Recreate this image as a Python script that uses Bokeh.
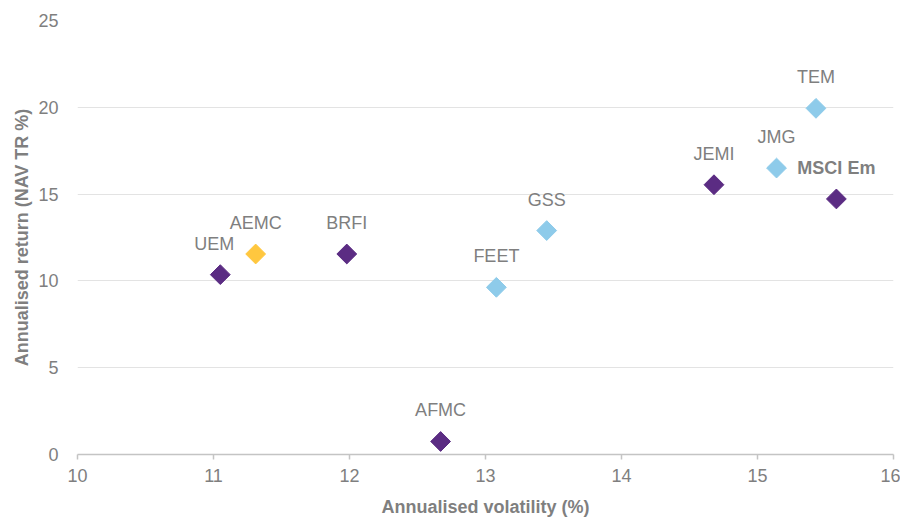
import math
from bokeh.plotting import figure
from bokeh.models import ColumnDataSource, Range1d, FixedTicker
from bokeh.embed import file_html
from bokeh.resources import INLINE
from bokeh.core.properties import value

# Data
names = ["UEM", "AEMC", "BRFI", "AFMC", "FEET", "GSS", "JEMI", "JMG", "TEM", "MSCI Em"]
volatility = [11.05, 11.31, 11.98, 12.67, 13.08, 13.45, 14.68, 15.14, 15.43, 15.58]
nav_return = [10.36, 11.55, 11.55, 0.75, 9.63, 12.90, 15.54, 16.50, 19.94, 14.72]
group = ["peer", "fund", "peer", "peer", "ext", "ext", "peer", "ext", "ext", "peer"]
x_ticks = [10, 11, 12, 13, 14, 15, 16]
y_ticks = [0, 5, 10, 15, 20, 25]

palette = {"peer": "#5b2c83", "fund": "#ffc73f", "ext": "#8ecbea"}
TEXT = "#7f7f7f"
FONT = "Liberation Sans"

label_dx = [-6 if n == "UEM" else 0 for n in names]
label_style = ["bold" if n == "MSCI Em" else "normal" for n in names]

src = ColumnDataSource(dict(
    x=volatility, y=nav_return, name=names,
    color=[palette[g] for g in group], dx=label_dx, style=label_style,
))

p = figure(width=900, height=519, output_backend="svg", toolbar_location=None,
           x_range=Range1d(10, 16), y_range=Range1d(0, 25),
           min_border_left=77, min_border_right=7, min_border_top=20, min_border_bottom=65)
p.outline_line_color = None
p.background_fill_color = "white"
p.border_fill_color = "white"

# grid
p.xgrid.grid_line_color = None
p.ygrid.ticker = FixedTicker(ticks=[5, 10, 15, 20, 25])
p.ygrid.grid_line_color = "#e3e3e3"
p.ygrid.grid_line_width = 1

# x axis
xa = p.xaxis[0]
xa.ticker = FixedTicker(ticks=x_ticks)
xa.axis_line_color = "#c4c4c4"
xa.axis_line_width = 1.5
xa.major_tick_line_color = "#c4c4c4"
xa.major_tick_line_width = 1.5
xa.major_tick_out = 5
xa.major_tick_in = 0
xa.minor_tick_line_color = None
xa.major_label_text_font = FONT
xa.major_label_text_font_size = "18px"
xa.major_label_text_color = TEXT
xa.major_label_standoff = 9
xa.axis_label = "Annualised volatility (%)"
xa.axis_label_text_font = FONT
xa.axis_label_text_font_size = "18px"
xa.axis_label_text_font_style = "bold"
xa.axis_label_text_color = TEXT
xa.axis_label_standoff = 12

# y axis
ya = p.yaxis[0]
ya.ticker = FixedTicker(ticks=y_ticks)
ya.axis_line_color = None
ya.major_tick_line_color = None
ya.major_tick_out = 0
ya.major_tick_in = 0
ya.minor_tick_line_color = None
ya.minor_tick_out = 0
ya.major_label_text_font = FONT
ya.major_label_text_font_size = "18px"
ya.major_label_text_color = TEXT
ya.major_label_standoff = 19
ya.axis_label = "Annualised return (NAV TR %)"
ya.axis_label_text_font = FONT
ya.axis_label_text_font_size = "18px"
ya.axis_label_text_font_style = "bold"
ya.axis_label_text_color = TEXT
ya.axis_label_standoff = 3

p.scatter("x", "y", source=src, marker="square", size=14, angle=math.pi / 4,
          fill_color="color", line_color="color")

p.text("x", "y", text="name", source=src, x_offset="dx", y_offset=-31,
       text_align="center", text_baseline="middle",
       text_font=value(FONT), text_font_size="18px", text_color=TEXT,
       text_font_style="style")

open("out.html", "w").write(file_html(p, INLINE))
